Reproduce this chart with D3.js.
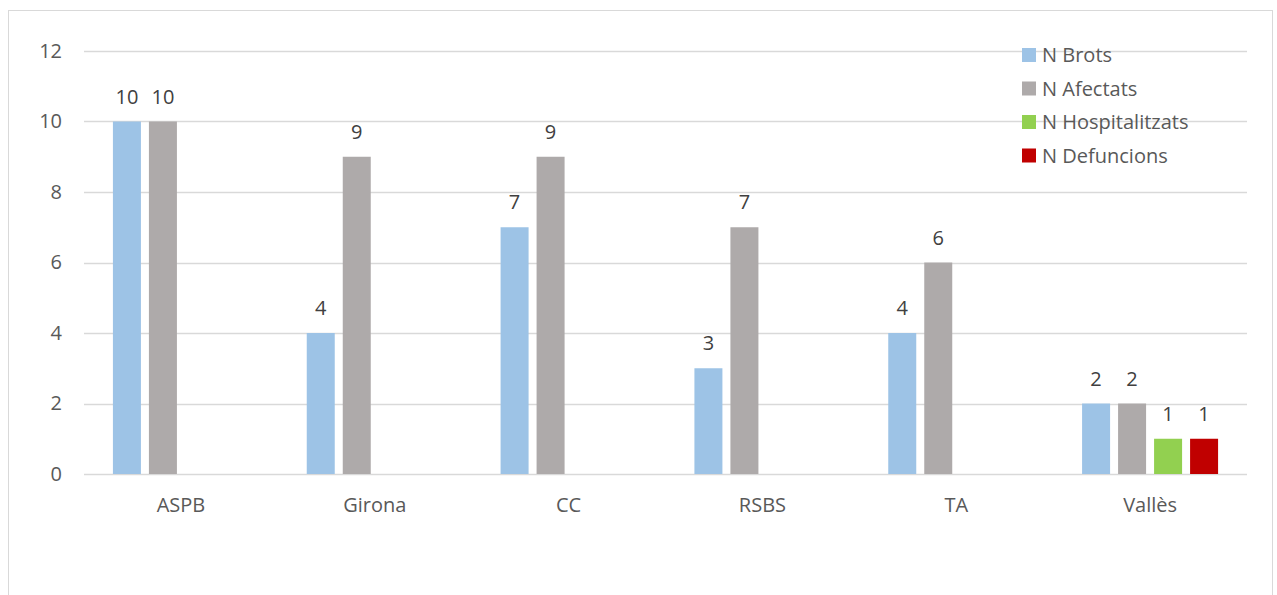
<!DOCTYPE html>
<html>
<head>
<meta charset="utf-8">
<script src="https://cdn.jsdelivr.net/npm/d3@7"></script>
<style>
  html, body { margin: 0; padding: 0; background: #fff; }
  svg { display: block; font-family: "Open Sans", Lato, "Liberation Sans", sans-serif; }
</style>
</head>
<body>
<svg id="chart" width="1277" height="595"></svg>
<script>
// Regions (health areas)
const categories = ["ASPB", "Girona", "CC", "RSBS", "TA", "Vallès"];
// Series
const seriesNames = ["N Brots", "N Afectats", "N Hospitalitzats", "N Defuncions"];
const brots = [10, 4, 7, 3, 4, 2];
const afectats = [10, 9, 9, 7, 6, 2];
const hospitalitzats = [0, 0, 0, 0, 0, 1];
const defuncions = [0, 0, 0, 0, 0, 1];
const seriesColors = ["#9DC3E6", "#AEAAAA", "#92D050", "#C00000"];
const yTicks = [0, 2, 4, 6, 8, 10, 12];

const seriesValues = [brots, afectats, hospitalitzats, defuncions];
const FONT = "'Open Sans', Lato, sans-serif";
const FS = 20;

const svg = d3.select("#chart");

// Outer frame
svg.append("rect")
  .attr("x", 8.5).attr("y", 10.5)
  .attr("width", 1264).attr("height", 600)
  .attr("fill", "#fff").attr("stroke", "#d9d9d9").attr("stroke-width", 1);

const plot = { left: 84, right: 1247, top: 51, bottom: 474 };

const x0 = d3.scaleBand().domain(categories).range([plot.left, plot.right]).paddingInner(0).paddingOuter(0);
const groupWidth = 136;
const x1 = d3.scaleBand().domain(seriesNames).range([0, groupWidth]).paddingInner(8 / 36).paddingOuter(0);
const y = d3.scaleLinear().domain([0, 12]).range([plot.bottom, plot.top]);

// Horizontal gridlines
svg.append("g").selectAll("line").data(yTicks).join("line")
  .attr("x1", plot.left).attr("x2", plot.right)
  .attr("y1", d => Math.round(y(d)) + 0.5).attr("y2", d => Math.round(y(d)) + 0.5)
  .attr("stroke", "#d9d9d9").attr("stroke-width", 1.3);

// Y axis tick labels
const yAxis = d3.axisLeft(y).tickValues(yTicks).tickSize(0).tickPadding(0);
const gy = svg.append("g").attr("transform", `translate(62,0)`).call(yAxis);
gy.select(".domain").remove();
gy.selectAll("text")
  .attr("fill", "#595959").attr("font-size", FS)
  .attr("font-family", FONT);

// X axis category labels
const xAxis = d3.axisBottom(x0).tickSize(0).tickPadding(0);
const gx = svg.append("g").attr("transform", `translate(0,${plot.bottom + 24})`).call(xAxis);
gx.select(".domain").remove();
gx.selectAll("text")
  .attr("fill", "#595959").attr("font-size", FS)
  .attr("font-family", FONT);

// Bars
const groups = svg.append("g").selectAll("g").data(categories).join("g")
  .attr("transform", c => `translate(${x0(c) + (x0.bandwidth() - groupWidth) / 2},0)`);

groups.each(function(c, ci) {
  const g = d3.select(this);
  const items = seriesNames.map((s, si) => ({ s, si, v: seriesValues[si][ci] })).filter(d => d.v > 0);
  g.selectAll("rect").data(items).join("rect")
    .attr("x", d => x1(d.s))
    .attr("width", x1.bandwidth())
    .attr("y", d => y(d.v))
    .attr("height", d => y(0) - y(d.v))
    .attr("fill", d => seriesColors[d.si]);
  g.selectAll("text").data(items).join("text")
    .attr("x", d => x1(d.s) + x1.bandwidth() / 2)
    .attr("y", d => y(d.v) - 18)
    .attr("text-anchor", "middle")
    .attr("fill", "#404040")
    .attr("font-size", FS)
    .attr("font-family", FONT)
    .text(d => d.v);
});

// Legend
const legend = svg.append("g").attr("transform", "translate(1022,48)");
const lg = legend.selectAll("g").data(seriesNames).join("g")
  .attr("transform", (d, i) => `translate(0,${i * 33.5})`);
lg.append("rect").attr("width", 14).attr("height", 14)
  .attr("fill", (d, i) => seriesColors[i]);
lg.append("text").attr("x", 20).attr("y", 7).attr("dy", "0.35em")
  .attr("fill", "#595959").attr("font-size", FS)
  .attr("font-family", FONT)
  .text(d => d);
</script>
</body>
</html>
